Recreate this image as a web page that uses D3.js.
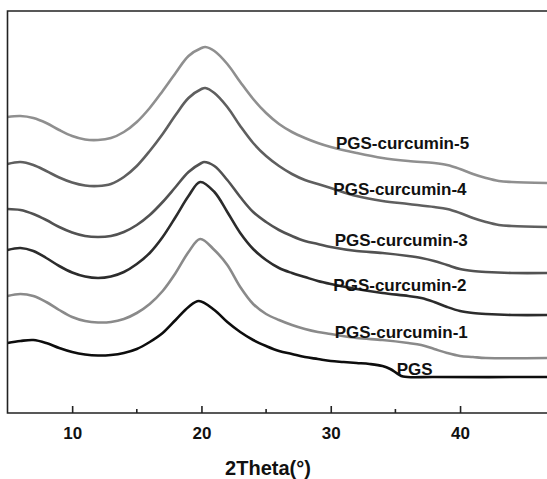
<!DOCTYPE html>
<html>
  <head>
    <title>XRD patterns</title>
    <script src="https://d3js.org/d3.v7.min.js"></script>
    <style>
      body { background-color: white; margin: 0; }
      svg { display: block; font-family: 'Liberation Sans', Arial, sans-serif; }
    </style>
  </head>
  <body>
    <svg id="canvas" width="547" height="479"></svg>

    <script>
      // 2theta (deg) of every sampled point, one list per pattern
      const thetaPGS = [5, 6, 7, 8, 9, 10, 11, 12, 13, 14, 15, 16, 17, 18, 19, 19.8, 21, 22, 23, 24, 25, 26, 27, 28, 29, 30, 31, 32, 33, 34, 34.6, 35.2, 35.6, 38, 47]
      const intPGS = [70, 72, 73, 70, 65, 61, 58.5, 57.5, 58, 60, 64, 71, 80, 93, 106, 112, 103, 91, 81, 73, 67, 62, 59, 56, 54, 52, 51, 50, 49, 47, 44, 39, 36.5, 36, 36]

      const thetaC1 = [5, 6, 7, 8, 9, 10, 11, 12, 13, 14, 15, 16, 17, 18, 19, 19.9, 21, 22, 23, 24, 25, 26, 27, 28, 29, 30, 32, 34, 36, 37, 38, 39, 40, 41, 42, 47]
      const intC1 = [117, 119, 117, 111, 103, 96, 92, 90.5, 91, 94, 100, 109, 122, 140, 161, 174, 163, 148, 126, 109, 99, 93, 88, 84, 81, 79, 75, 73, 70, 68, 64, 60, 57, 56, 55, 55]

      const thetaC2 = [5, 6, 7, 8, 9, 10, 11, 12, 13, 14, 15, 16, 17, 18, 19, 19.9, 21, 22, 23, 24, 25, 26, 27, 28, 29, 30, 32, 34, 36, 37, 38, 39, 40, 41, 42, 44, 47]
      const intC2 = [163, 165, 162, 155, 147, 140.5, 136.5, 135, 136.5, 141, 149, 160, 176, 196, 217, 231, 221, 201, 180, 164, 153, 145, 140, 136, 132, 129, 124, 120, 117, 115, 111, 106, 102, 100, 99, 98, 98]

      const thetaC3 = [5, 6, 7, 8, 9, 10, 11, 12, 13, 14, 15, 16, 17, 18, 19, 20, 20.2, 21, 22, 23, 24, 25, 26, 27, 28, 29, 30, 32, 34, 36, 37, 38, 39, 40, 41, 42, 44, 47]
      const intC3 = [204, 203, 199, 193, 186, 180.5, 177, 176, 177, 181, 188, 198, 211, 226, 241, 250, 251, 247, 233, 216, 201, 191, 183, 177, 172, 169, 166, 162, 160, 157, 155, 152, 148, 144, 142, 141, 140, 140]

      const thetaC4 = [5, 6, 7, 8, 9, 10, 11, 12, 13, 14, 15, 16, 17, 18, 19, 20, 20.3, 21, 22, 23, 24, 25, 26, 27, 28, 29, 30, 32, 34, 36, 38, 39, 40, 41, 42, 43, 44, 47]
      const intC4 = [249, 251, 248, 242, 235.5, 230.5, 227.5, 227, 229, 236, 247, 262, 279, 298, 315, 324, 325, 320, 306, 287, 270, 257, 247, 239, 233, 229, 225, 217, 212, 209, 206, 204, 200, 195, 191, 188, 187, 186]

      const thetaC5 = [5, 6, 7, 8, 9, 10, 11, 12, 13, 14, 15, 16, 17, 18, 19, 20, 20.3, 21, 22, 23, 24, 25, 26, 27, 28, 29, 30, 32, 34, 36, 38, 39, 40, 41, 42, 43, 44, 47]
      const intC5 = [296, 297, 295, 290, 283, 277, 273.5, 273, 275, 281, 291, 305, 322, 340, 357, 365, 366, 362, 349, 331, 314, 300, 289, 281, 275, 270, 266, 260, 255, 252, 250, 248, 244, 239, 235, 232, 231, 230]

      const seriesNames = ['PGS', 'PGS-curcumin-1', 'PGS-curcumin-2', 'PGS-curcumin-3', 'PGS-curcumin-4', 'PGS-curcumin-5']
      const seriesColors = ['#0d0d0d', '#8a8a8a', '#2c2c2c', '#525252', '#5f5f5f', '#8f8f8f']
      // where each name is written: [2theta, intensity]
      const labelTheta = [35.1, 30.3, 30.2, 30.3, 30.2, 30.4]
      const labelInt = [38, 75, 122, 167, 218, 264]

      const majorTicks = [10, 20, 30, 40]
      const minorTicks = [15, 25, 35]

      const thetas = [thetaPGS, thetaC1, thetaC2, thetaC3, thetaC4, thetaC5]
      const ints = [intPGS, intC1, intC2, intC3, intC4, intC5]
      const series = seriesNames.map((name, i) => ({
        name: name,
        color: seriesColors[i],
        points: thetas[i].map((t, j) => ({ t: t, v: ints[i][j] })),
        lt: labelTheta[i],
        lv: labelInt[i]
      }))

      const svg = d3.select('#canvas')
      const plotLeft = 7.5
      const plotTop = 11
      const plotBottom = 413

      const x = d3.scaleLinear().domain([5, 45]).range([plotLeft, 524.7])
      const y = d3.scaleLinear().domain([0, 402]).range([plotBottom, plotTop])

      svg.append('defs').append('clipPath').attr('id', 'plotClip')
        .append('rect')
        .attr('x', plotLeft).attr('y', plotTop)
        .attr('width', 547 - plotLeft).attr('height', plotBottom - plotTop)

      const line = d3.line()
        .x(d => x(d.t))
        .y(d => y(d.v))
        .curve(d3.curveCatmullRom.alpha(0.5))

      svg.append('g').attr('clip-path', 'url(#plotClip)')
        .selectAll('path')
        .data(series)
        .join('path')
          .attr('d', d => line(d.points))
          .attr('fill', 'none')
          .attr('stroke', d => d.color)
          .attr('stroke-width', 2.6)
          .attr('stroke-linejoin', 'round')

      // frame: left, top and bottom only (right side is cut off)
      svg.append('path')
        .attr('d', `M547,${plotTop}H${plotLeft}V${plotBottom}H547`)
        .attr('fill', 'none')
        .attr('stroke', '#222')
        .attr('stroke-width', 1.6)

      const xAxis = d3.axisBottom(x)
        .tickValues(majorTicks)
        .tickSizeInner(-7)
        .tickSizeOuter(0)
        .tickPadding(14)
      const ax = svg.append('g')
        .attr('transform', `translate(0, ${plotBottom})`)
        .call(xAxis)
      ax.select('.domain').remove()
      ax.selectAll('.tick line').attr('stroke', '#222').attr('stroke-width', 1.6)
      ax.selectAll('.tick text')
        .attr('fill', '#111')
        .attr('font-size', 17)
        .attr('font-weight', 'bold')
        .attr('font-family', "'Liberation Sans', Arial, sans-serif")

      svg.append('g')
        .selectAll('line')
        .data(minorTicks)
        .join('line')
          .attr('x1', d => x(d)).attr('x2', d => x(d))
          .attr('y1', plotBottom).attr('y2', plotBottom - 4)
          .attr('stroke', '#222')
          .attr('stroke-width', 1.6)

      svg.append('text')
        .attr('x', 268)
        .attr('y', 475)
        .attr('text-anchor', 'middle')
        .attr('font-size', 20)
        .attr('font-weight', 'bold')
        .attr('fill', '#111')
        .text('2Theta(°)')

      svg.append('g')
        .selectAll('text')
        .data(series)
        .join('text')
          .attr('x', d => x(d.lt))
          .attr('y', d => y(d.lv))
          .attr('font-size', 17)
          .attr('font-weight', 'bold')
          .attr('fill', '#111')
          .text(d => d.name)
    </script>
  </body>
</html>
